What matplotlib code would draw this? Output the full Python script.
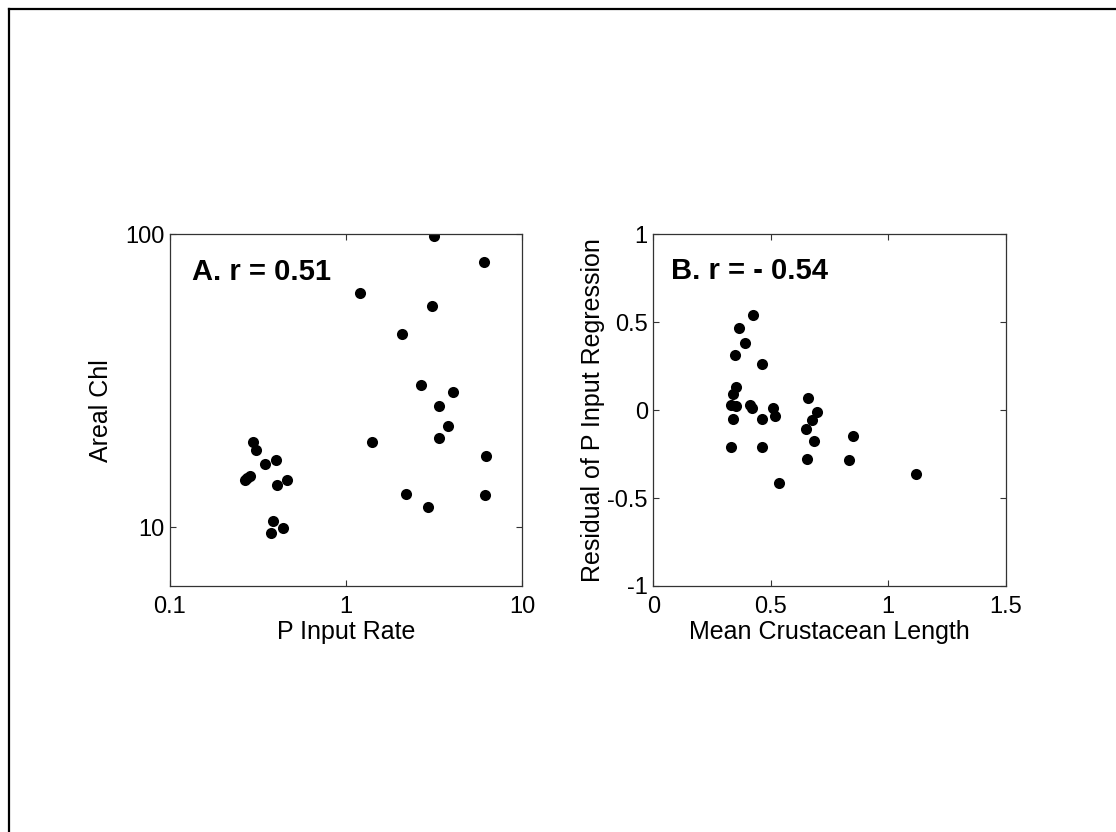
import matplotlib
matplotlib.use("Agg")
import matplotlib.pyplot as plt
from matplotlib.lines import Line2D
from matplotlib.ticker import NullLocator

plt.rcParams['font.family'] = ['Liberation Sans', 'DejaVu Sans']

# Panel A: P input rate vs areal chlorophyll
p_input = [3.18, 6.11, 1.196, 3.09, 2.07, 2.68, 4.06, 3.36, 3.78, 3.36, 1.40, 6.27, 2.18, 6.16, 2.91,
           0.2975, 0.3067, 0.345, 0.400, 0.464, 0.407, 0.266, 0.275, 0.284, 0.3865, 0.4386, 0.375]
areal_chl = [98.7, 80.6, 63.0, 56.9, 45.8, 30.7, 28.9, 26.0, 22.2, 20.1, 19.6, 17.5, 13.0, 12.9, 11.7,
             19.6, 18.3, 16.4, 17.0, 14.5, 13.96, 14.5, 14.7, 15.0, 10.46, 9.9, 9.54]

# Panel B: mean crustacean length vs residual
crust_len = [0.425, 0.364, 0.389, 0.349, 0.462, 0.354, 0.341, 0.331, 0.352, 0.412, 0.419, 0.511, 0.517,
             0.339, 0.462, 0.658, 0.697, 0.675, 0.648, 0.683, 0.330, 0.464, 0.653, 0.831, 0.848, 0.537, 1.116]
residual = [0.542, 0.468, 0.381, 0.313, 0.264, 0.133, 0.093, 0.030, 0.021, 0.032, 0.013, 0.011, -0.034,
            -0.053, -0.053, 0.068, -0.009, -0.055, -0.110, -0.174, -0.209, -0.209, -0.277, -0.282, -0.148,
            -0.413, -0.366]

xticks_a = [0.1, 1, 10]
xticklabels_a = ['0.1', '1', '10']
yticks_a = [10, 100]
yticklabels_a = ['10', '100']
xticks_b = [0, 0.5, 1, 1.5]
xticklabels_b = ['0', '0.5', '1', '1.5']
yticks_b = [-1, -0.5, 0, 0.5, 1]
yticklabels_b = ['-1', '-0.5', '0', '0.5', '1']

fig = plt.figure(figsize=(11.16, 8.32), dpi=100)

axA = fig.add_axes([0.1523, 0.2957, 0.3154, 0.4227])
axB = fig.add_axes([0.5854, 0.2957, 0.3158, 0.4227])

FS_TICK = 17
FS_LABEL = 18
FS_TITLE = 21

def style(ax):
    for s in ax.spines.values():
        s.set_linewidth(0.9)
        s.set_color('#333333')
    ax.tick_params(which='both', direction='in', top=True, right=True, length=4,
                   width=0.8, color='#333333', labelsize=FS_TICK)
    ax.tick_params(axis='x', pad=7)
    ax.tick_params(axis='y', pad=4)

axA.plot(p_input, areal_chl, 'o', color='black', markersize=8, markeredgewidth=0)
axA.set_xscale('log')
axA.set_yscale('log')
axA.set_xlim(0.1, 10)
axA.set_ylim(6.3, 100)
axA.set_xticks(xticks_a)
axA.set_xticklabels(xticklabels_a)
axA.set_yticks(yticks_a)
axA.set_yticklabels(yticklabels_a)
axA.xaxis.set_minor_locator(NullLocator())
axA.yaxis.set_minor_locator(NullLocator())
style(axA)
axA.set_xlabel('P Input Rate', fontsize=FS_LABEL, labelpad=2)
axA.set_ylabel('Areal Chl', fontsize=FS_LABEL)
axA.yaxis.set_label_coords(-0.162, 0.5)
axA.text(0.062, 0.870, 'A. r = 0.51', transform=axA.transAxes, fontsize=FS_TITLE,
         fontweight='bold', ha='left', va='baseline')

axB.plot(crust_len, residual, 'o', color='black', markersize=8, markeredgewidth=0)
axB.set_xlim(0, 1.5)
axB.set_ylim(-1, 1)
axB.set_xticks(xticks_b)
axB.set_xticklabels(xticklabels_b)
axB.set_yticks(yticks_b)
axB.set_yticklabels(yticklabels_b)
style(axB)
axB.set_xlabel('Mean Crustacean Length', fontsize=FS_LABEL, labelpad=2)
axB.set_ylabel('Residual of P Input Regression', fontsize=FS_LABEL)
axB.yaxis.set_label_coords(-0.137, 0.5)
axB.text(0.049, 0.872, 'B. r = - 0.54', transform=axB.transAxes, fontsize=FS_TITLE,
         fontweight='bold', ha='left', va='baseline')

# frame border (top and left visible)
x0 = 8.5 / 1116
y0 = 1 - 8.5 / 832
fig.add_artist(Line2D([x0, 1.0], [y0, y0], transform=fig.transFigure, color='black', linewidth=1.6))
fig.add_artist(Line2D([x0, x0], [0.0, y0], transform=fig.transFigure, color='black', linewidth=1.6))

fig.savefig('out.png', dpi=100, facecolor='white')
